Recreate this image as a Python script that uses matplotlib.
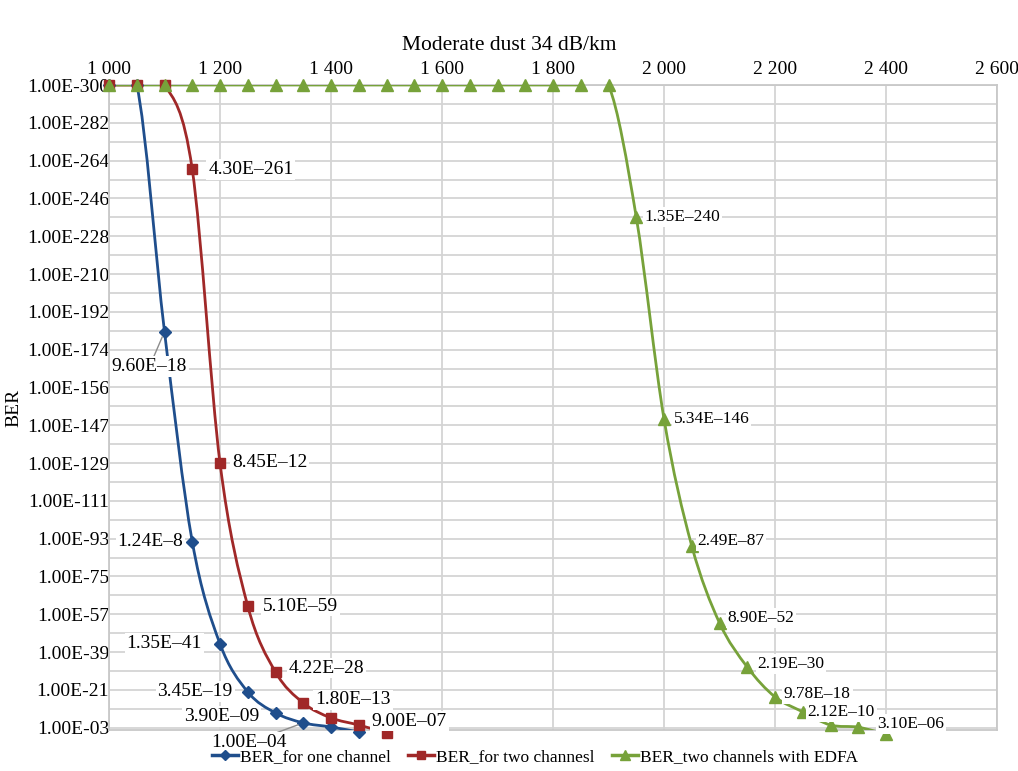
import numpy as np
import matplotlib
matplotlib.use('Agg')
import matplotlib.pyplot as plt
from matplotlib.path import Path
from matplotlib.patches import PathPatch

plt.rcParams['font.family'] = ['Liberation Serif', 'DejaVu Serif']

# datos (x = distancia, y = exponente del BER tal como se dibuja)
x_one = [1000, 1050, 1100, 1150, 1200, 1250, 1300, 1350, 1400, 1450]
e_one = [300, 300, 186, 89, 41.7, 19.5, 9.8, 5.2, 3.3, 1.0]
lab_one = [None, None, '9.60E\u201318', '1.24E\u20138', '1.35E\u201341', '3.45E\u201319',
           '3.90E\u201309', '1.00E\u201304', None, None]

x_two = [1000, 1050, 1100, 1150, 1200, 1250, 1300, 1350, 1400, 1450, 1500]
e_two = [300, 300, 300, 261, 125.3, 59.2, 28.7, 14.4, 7.5, 4.2, 0.6]
lab_two = [None, None, None, '4.30E\u2013261', '8.45E\u201312', '5.10E\u201359', '4.22E\u201328',
           '1.80E\u201313', None, '9.00E\u201307', None]

x_edfa = [1000, 1050, 1100, 1150, 1200, 1250, 1300, 1350, 1400, 1450, 1500, 1550, 1600, 1650,
          1700, 1750, 1800, 1850, 1900, 1950, 2000, 2050, 2100, 2150, 2200, 2250, 2300, 2350, 2400]
e_edfa = [300, 300, 300, 300, 300, 300, 300, 300, 300, 300, 300, 300, 300, 300,
          300, 300, 300, 300, 300, 239, 145.7, 87, 51.4, 31, 17.2, 10.3, 4.2, 3.2, -0.1]
lab_edfa = [None] * 19 + ['1.35E\u2013240', '5.34E\u2013146', '2.49E\u201387', '8.90E\u201352',
                          '2.19E\u201330', '9.78E\u201318', '2.12E\u201310', None, '3.10E\u201306', None]

y_tick_labels = ['1.00E-300', '1.00E-282', '1.00E-264', '1.00E-246', '1.00E-228', '1.00E-210',
                 '1.00E-192', '1.00E-174', '1.00E-156', '1.00E-147', '1.00E-129', '1.00E-111',
                 '1.00E-93', '1.00E-75', '1.00E-57', '1.00E-39', '1.00E-21', '1.00E-03']
x_ticks = [1000, 1200, 1400, 1600, 1800, 2000, 2200, 2400, 2600]
x_tick_labels = ['1 000', '1 200', '1 400', '1 600', '1 800', '2 000', '2 200', '2 400', '2 600']

c_one = '#1F4E8C'
c_two = '#A02828'
c_edfa = '#77A23A'


def curva_suave(xs, ys):
    # tipo Excel: Catmull-Rom pasado a Bezier
    p = np.column_stack([xs, ys]).astype(float)
    verts = [p[0]]
    codes = [Path.MOVETO]
    n = len(p)
    for i in range(n - 1):
        p0 = p[i - 1] if i > 0 else p[i]
        p1 = p[i]
        p2 = p[i + 1]
        p3 = p[i + 2] if i + 2 < n else p[i + 1]
        verts += [p1 + (p2 - p0) / 6, p2 - (p3 - p1) / 6, p2]
        codes += [Path.CURVE4] * 3
    return Path(verts, codes)


fig = plt.figure(figsize=(10.18, 7.71), dpi=100)
ax = fig.add_axes([109 / 1018, 1 - 730 / 771, (997 - 109) / 1018, (730 - 85) / 771])

ax.set_xlim(1000, 2600)
ax.set_ylim(1.9, 300)

y_ticks = np.linspace(300, 3, 18)
ax.set_yticks(y_ticks)
ax.set_yticklabels(y_tick_labels, fontsize=14)
ax.set_yticks((y_ticks[:-1] + y_ticks[1:]) / 2, minor=True)
ax.set_xticks(x_ticks)
ax.set_xticklabels(x_tick_labels, fontsize=14)
ax.xaxis.tick_top()
ax.tick_params(which='both', length=0)
ax.tick_params(axis='y', pad=0)
ax.tick_params(axis='x', pad=5)
ax.grid(True, which='both', color='#D4D4D4', linewidth=1.3)
ax.set_axisbelow(True)
for s in ax.spines.values():
    s.set_color('#C8C8C8')
    s.set_linewidth(1.3)

ax.set_ylabel('BER', fontsize=14)
ax.yaxis.set_label_coords(-0.098, 0.5)
fig.text(0.5, 1 - 45 / 771, 'Moderate dust 34 dB/km', ha='center', va='center', fontsize=15.5)

series = [
    (x_one, e_one, c_one, 'D', 6, 'BER_for one channel'),
    (x_two, e_two, c_two, 's', 7, 'BER_for two channesl'),
    (x_edfa, e_edfa, c_edfa, '^', 8, 'BER_two channels with EDFA'),
]
handles = []
for xs, es, col, mk, ms, nombre in series:
    ax.add_patch(PathPatch(curva_suave(xs, es), facecolor='none', edgecolor=col,
                           linewidth=2, transform=ax.transData, zorder=3))
    ax.plot(xs, es, linestyle='none', marker=mk, markersize=ms, color=col,
            clip_on=False, zorder=4)
    h, = ax.plot([], [], color=col, linewidth=2.5, marker=mk, markersize=ms - 1, label=nombre)
    handles.append(h)

# posiciones de las etiquetas (desplazamiento en pixeles)
off_one = [None, None, (-15, -35, 'center'), (-9, 0, 'right'), (-18, 0, 'right'),
           (-15, 0, 'right'), (-16, -4, 'right'), (-54, -20, 'center'), None, None]
off_two = [None, None, None, (16, 0, 'left'), (12, 0, 'left'), (15, 0, 'left'),
           (13, 4, 'left'), (12, 3, 'left'), None, (13, 4, 'left'), None]
off_edfa = [None] * 19 + [(8, 0, 'left'), (10, 0, 'left'), (6, 5, 'left'), (8, 5, 'left'),
                          (10, 3, 'left'), (9, 3, 'left'), (5, 0, 'left'), None,
                          (19, 3, 'left'), None]

caja = dict(boxstyle='square,pad=0.1', facecolor='white', edgecolor='none')
for xs, es, labs, offs, fs in [(x_one, e_one, lab_one, off_one, 14),
                               (x_two, e_two, lab_two, off_two, 14),
                               (x_edfa, e_edfa, lab_edfa, off_edfa, 12.5)]:
    for xv, ev, lab, off in zip(xs, es, labs, offs):
        if lab is None:
            continue
        dx, dy, ha = off
        flecha = None
        if abs(dy) > 15:
            flecha = dict(arrowstyle='-', color='#8C8C8C', lw=1, shrinkA=0, shrinkB=4)
        ax.annotate(lab, (xv, ev), xytext=(dx, dy), textcoords='offset pixels',
                    ha=ha, va='center', fontsize=fs, bbox=caja, zorder=5,
                    arrowprops=flecha, annotation_clip=False)

fig.legend(handles=handles, loc='center', bbox_to_anchor=(535 / 1018, 1 - 757 / 771),
           ncol=3, frameon=False, fontsize=12.5, handlelength=1.5, handletextpad=0.1,
           columnspacing=1.0, borderpad=0)

fig.savefig('out.png', dpi=100)
